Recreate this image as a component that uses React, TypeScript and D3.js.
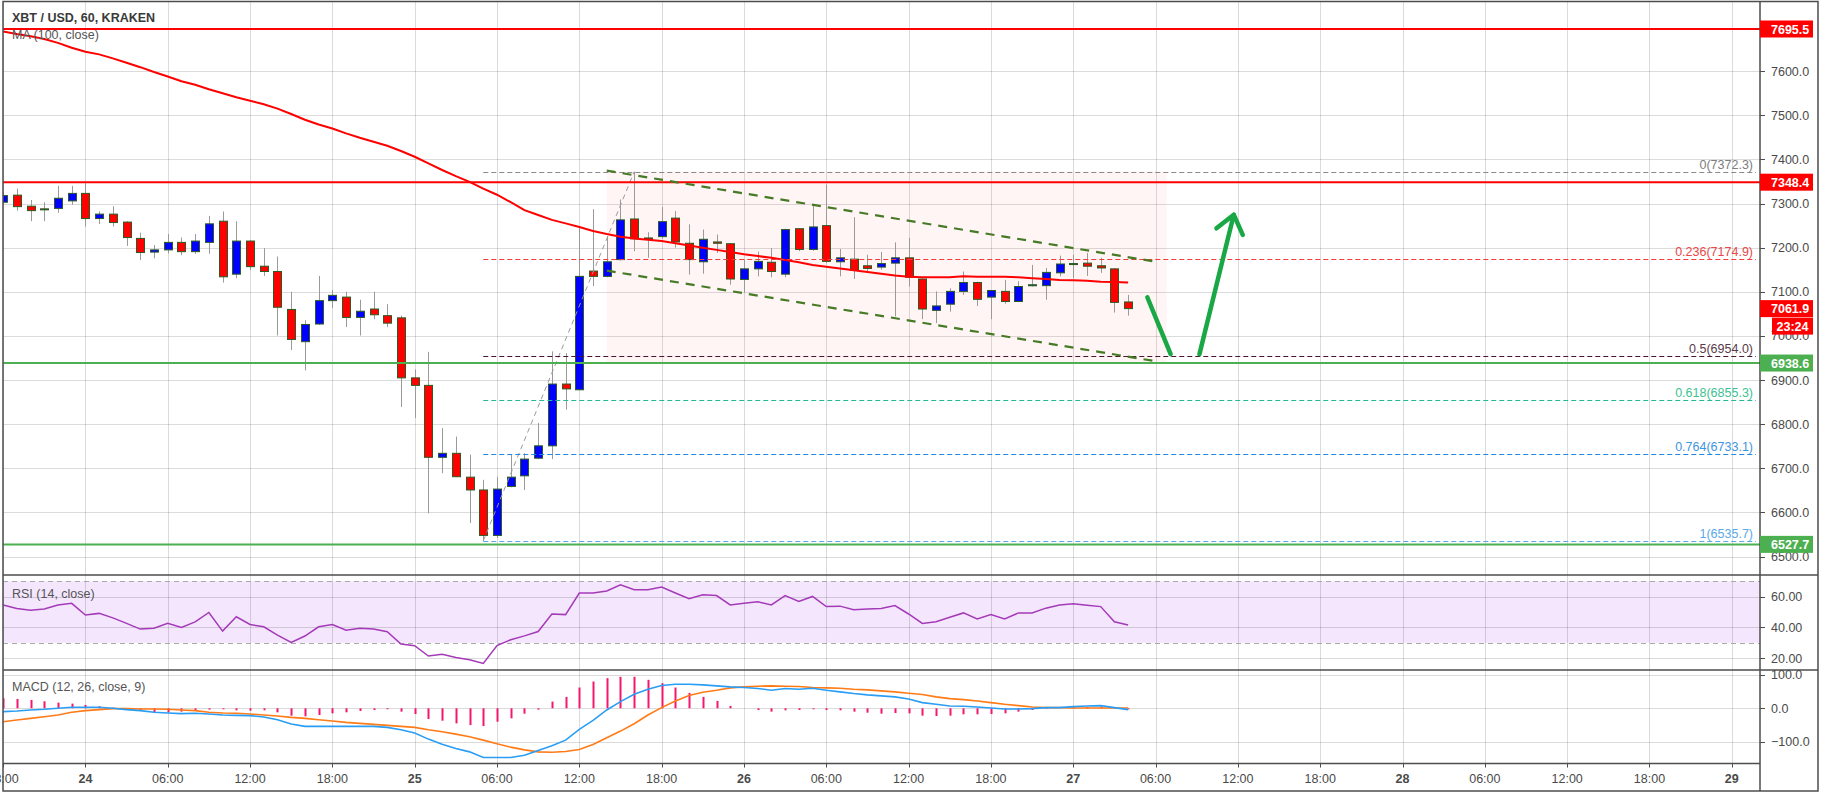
import React from "react";
import * as d3 from "d3";

// ---------------- data ----------------
// hourly candles, first candle = Nov 23 18:00 (hour -6 relative to Nov 24 00:00)
const FIRST_HOUR = -6;

const open = [
  7303, 7319, 7294, 7288, 7289, 7306, 7323, 7266, 7276, 7258,
  7221, 7190, 7195, 7212, 7191, 7212, 7260, 7140, 7215, 7158,
  7146, 7060, 6987, 7027, 7080, 7088, 7042, 7061, 7046, 7041,
  6905, 6888, 6725, 6734, 6680, 6651, 6548, 6659, 6683, 6723,
  6751, 6891, 6878, 7147, 7135, 7173, 7265, 7222, 7225, 7267,
  7210, 7168, 7213, 7209, 7128, 7152, 7167, 7140, 7243, 7196,
  7250, 7168, 7174, 7159, 7156, 7165, 7177, 7129, 7058, 7072,
  7101, 7121, 7088, 7101, 7078, 7114, 7114, 7143, 7163, 7165,
  7159, 7152, 7077,
];
const high = [
  7325, 7334, 7308, 7303, 7340, 7340, 7346, 7282, 7294, 7260,
  7234, 7206, 7231, 7223, 7231, 7272, 7282, 7260, 7217, 7199,
  7180, 7100, 7036, 7136, 7104, 7100, 7082, 7100, 7072, 7046,
  6924, 6964, 6791, 6772, 6731, 6674, 6681, 6731, 6734, 6803,
  6965, 6961, 7249, 7287, 7226, 7309, 7372, 7235, 7292, 7283,
  7253, 7241, 7230, 7210, 7173, 7191, 7199, 7243, 7244, 7298,
  7343, 7197, 7269, 7184, 7190, 7212, 7222, 7130, 7101, 7108,
  7146, 7123, 7104, 7127, 7124, 7161, 7154, 7182, 7184, 7188,
  7177, 7153, 7093,
];
const low = [
  7298, 7284, 7260, 7260, 7279, 7297, 7248, 7254, 7248, 7204,
  7172, 7176, 7187, 7183, 7186, 7186, 7121, 7131, 7149, 7136,
  7001, 6968, 6922, 7025, 7063, 7020, 7001, 7038, 7020, 6839,
  6814, 6598, 6689, 6680, 6576, 6536, 6542, 6657, 6651, 6721,
  6721, 6833, 6877, 7113, 7133, 7171, 7192, 7177, 7220, 7200,
  7139, 7141, 7188, 7116, 7098, 7135, 7133, 7133, 7192, 7193,
  7165, 7135, 7129, 7143, 7150, 7044, 7112, 7038, 7029, 7055,
  7093, 7068, 7038, 7073, 7077, 7112, 7082, 7135, 7131, 7136,
  7143, 7053, 7046,
];
const close = [
  7318, 7293, 7284, 7287, 7312, 7323, 7266, 7276, 7257, 7223,
  7189, 7195, 7212, 7191, 7215, 7254, 7134, 7215, 7157, 7146,
  7065, 6992, 7026, 7080, 7092, 7042, 7056, 7048, 7029, 6905,
  6888, 6725, 6734, 6681, 6651, 6548, 6653, 6680, 6721, 6751,
  6891, 6880, 7135, 7135, 7168, 7263, 7220, 7219, 7259, 7213,
  7173, 7219, 7210, 7129, 7152, 7169, 7146, 7241, 7196, 7247,
  7169, 7177, 7149, 7153, 7164, 7177, 7133, 7061, 7068, 7101,
  7121, 7083, 7103, 7078, 7112, 7116, 7144, 7163, 7164, 7158,
  7154, 7076, 7062,
];
const ma100 = [
  7690, 7684, 7679, 7673, 7664, 7653, 7644, 7638, 7629, 7619,
  7609, 7598, 7588, 7577, 7569, 7559, 7550, 7541, 7533, 7525,
  7515, 7503, 7490, 7479, 7470, 7459, 7449, 7440, 7431, 7419,
  7406, 7391, 7376, 7362, 7349, 7334, 7320, 7303, 7285, 7274,
  7263, 7255, 7247, 7238, 7231, 7225, 7221, 7218, 7215, 7210,
  7205, 7200, 7195, 7190, 7185, 7181, 7177, 7172, 7167, 7161,
  7157, 7153, 7149, 7145, 7141, 7137, 7134, 7133, 7133, 7133,
  7135, 7134, 7134, 7134, 7133, 7131, 7129, 7127, 7126, 7125,
  7123, 7122, 7121,
];
const rsi = [
  54.5, 52.3, 51.2, 51.9, 54.5, 55.6, 48.0, 49.1, 46.2, 42.6,
  38.9, 39.4, 42.6, 40.0, 43.6, 49.7, 37.6, 46.9, 41.9, 40.4,
  35.0, 30.3, 34.4, 40.4, 41.9, 38.2, 39.4, 38.9, 37.2, 29.2,
  28.1, 21.4, 22.5, 20.5, 19.0, 16.6, 28.2, 32.0, 34.5, 37.3,
  48.7, 48.3, 62.3, 62.3, 63.6, 67.7, 64.5, 64.5, 66.2, 62.3,
  58.6, 61.2, 60.7, 54.6, 55.7, 56.6, 54.6, 60.7, 56.8, 60.1,
  53.5, 53.8, 51.4, 51.9, 52.3, 54.2, 48.7, 42.6, 43.7, 46.6,
  49.4, 45.5, 48.3, 45.5, 49.4, 49.4, 52.5, 54.6, 55.3, 54.4,
  53.5, 43.7, 41.5,
];
const macd = [
  -10, -8, -5, -3, 0, 3, 3, 3, 0, -4,
  -7, -12, -14, -16, -15, -17, -20, -21, -22, -26,
  -34, -47, -54, -54, -54, -54, -54, -54, -57, -64,
  -74, -92, -107, -120, -130, -147, -147, -147, -140, -126,
  -112, -95, -63, -36, -5, 20, 42, 57, 68, 72,
  72, 70, 67, 64, 62, 59, 54, 59, 57, 60,
  54, 49, 44, 40, 37, 34, 28, 17, 12, 7,
  6, 4, 1, -2, -2, -1, 2, 2, 5, 7,
  8, 2, -4,
];
const signal = [
  -40, -35, -30, -25, -20, -12, -7, -4, -1, -1,
  -2, -2, -3, -5, -7, -12, -14, -15, -17, -20,
  -23, -27, -30, -34, -38, -42, -45, -48, -51, -54,
  -57, -64, -70, -77, -85, -95, -106, -116, -124, -130,
  -131, -129, -123, -108, -88, -68, -46, -20, 2, 22,
  38, 48, 54, 61, 64, 66, 67, 66, 65, 62,
  61, 60, 57, 55, 52, 49, 45, 41, 34, 29,
  26, 22, 17, 12, 8, 4, 2, 2, 1, 1,
  1, 1, 1,
];
const hist = [
  30, 28, 25, 21, 17, 14, 10, 6, 2, 0,
  -5, -12, -12, -10, -7, -4, -3, -6, -7, -6,
  -12, -22, -24, -20, -15, -12, -8, -5, -3, -10,
  -17, -32, -37, -45, -50, -53, -40, -30, -16, -4,
  20, 34, 62, 80, 90, 94, 94, 85, 75, 62,
  46, 34, 22, 7, 0, -5, -10, -6, -5, -3,
  -5, -6, -10, -13, -16, -14, -15, -22, -23, -22,
  -18, -18, -17, -15, -10, -5, -2, 0, 3, 4,
  5, 2, -3,
];

const timeTickHours = [-6, 0, 6, 12, 18, 24, 30, 36, 42, 48, 54, 60, 66, 72, 78, 84, 90, 96, 102, 108, 114, 120];
const timeTickLabels = [
  "18:00", "24", "06:00", "12:00", "18:00", "25", "06:00", "12:00", "18:00", "26", "06:00",
  "12:00", "18:00", "27", "06:00", "12:00", "18:00", "28", "06:00", "12:00", "18:00", "29",
];
const priceTicks = [6500, 6600, 6700, 6800, 6900, 7000, 7100, 7200, 7300, 7400, 7500, 7600];
const rsiTicks = [20, 40, 60];
const rsiBand = [30, 70];
const macdTicks = [-100, 0, 100];

const resistanceLevels = [7695.5, 7348.4];
const supportLevels = [6938.6, 6527.7];
const lastPrice = 7061.9;
const countdownText = "23:24";

const fibRatios = ["0", "0.236", "0.5", "0.618", "0.764", "1"];
const fibPrices = [7372.3, 7174.9, 6954.0, 6855.3, 6733.1, 6535.7];
const fibLineColors = ["#8a8a8a", "#f23b3b", "#4a1631", "#21b99a", "#1e88e5", "#5aa9e6"];
const fibTextColors = ["#7d7d7d", "#e84848", "#5a3a4a", "#3cc391", "#3d95dd", "#5aa9e6"];
const fibStartHour = 29;
const swingLine = [[29, 6535.7], [40, 7372.3]];

const channelUpper = [[38, 7374.6], [78.1, 7167.7]];
const channelLower = [[38, 7148], [78.1, 6942.2]];
const channelBox = { h0: 38, h1: 78.8, p0: 7372.3, p1: 6941 };
const arrowDown = [[77.4, 7087.7], [79.1, 6958.8]];
const arrowUp = [[81.2, 6958.8], [83.7, 7274.6]];

// ---------------- component ----------------
const FONT = "'Liberation Sans', Arial, sans-serif";
const AXFONT = "'Liberation Sans Narrow', 'Liberation Sans', Arial, sans-serif";

export default function App() {
  const W = 1822, H = 792;
  const L = 3, T = 1.5, R = 1818, B = 791;
  const AX = 1760;
  const P_BOT = 575, RSI_BOT = 670, M_BOT = 763.5;

  const x = d3.scaleLinear().domain([0, 120]).range([85.4, 1731.8]);
  const yP = d3.scaleLinear().domain([6500, 7600]).range([556.6, 71.15]);
  const yR = d3.scaleLinear().domain([20, 60]).range([658.2, 596.6]);
  const yM = d3.scaleLinear().domain([-100, 100]).range([741.8, 674.8]);

  const hours = open.map((_, i) => FIRST_HOUR + i);
  const px = (h: number) => Math.round(x(h)) + 0.5;
  const crisp = (v: number) => Math.round(v) + 0.5;

  const maLine = d3.line<number>().x((_, i) => x(hours[i])).y((d) => yP(d));
  const rsiLine = d3.line<number>().x((_, i) => x(hours[i])).y((d) => yR(d));
  const macdLine = d3.line<number>().x((_, i) => x(hours[i])).y((d) => yM(d));
  const segLine = d3.line<number[]>().x((d) => x(d[0])).y((d) => yP(d[1]));

  // arrow head on the up arrow
  const tip = [x(arrowUp[1][0]), yP(arrowUp[1][1])];
  const tail = [x(arrowUp[0][0]), yP(arrowUp[0][1])];
  const ang = Math.atan2(tail[1] - tip[1], tail[0] - tip[0]);
  const barb = 22, spread = (38 * Math.PI) / 180;
  const b1 = [tip[0] + barb * Math.cos(ang - spread), tip[1] + barb * Math.sin(ang - spread)];
  const b2 = [tip[0] + barb * Math.cos(ang + spread), tip[1] + barb * Math.sin(ang + spread)];

  const axisText = "#4a4a4a";

  const levelBox = (p: number, color: string, key: string) => {
    const yc = yP(p);
    return (
      <g key={key}>
        <rect x={AX} y={yc - 8.5} width={53} height={17} fill={color} />
        <text x={1771} y={yc + 4.5} fill="#fff" fontWeight="bold" fontSize={12.5} fontFamily={AXFONT}>
          {p.toFixed(1)}
        </text>
      </g>
    );
  };

  return (
    <svg
      width={W}
      height={H}
      viewBox={`0 0 ${W} ${H}`}
      style={{ position: "absolute", left: 0, top: 0, background: "#fff" }}
    >
      <defs>
        <clipPath id="pricePane">
          <rect x={L} y={T} width={AX - L} height={P_BOT - T} />
        </clipPath>
        <clipPath id="rsiPane">
          <rect x={L} y={P_BOT} width={AX - L} height={RSI_BOT - P_BOT} />
        </clipPath>
        <clipPath id="macdPane">
          <rect x={L} y={RSI_BOT} width={AX - L} height={M_BOT - RSI_BOT} />
        </clipPath>
      </defs>
      <rect x={0} y={0} width={W} height={H} fill="#fff" />

      {/* RSI band */}
      <rect x={L} y={yR(rsiBand[1])} width={AX - L} height={yR(rsiBand[0]) - yR(rsiBand[1])} fill="#f4e7fd" />

      {/* vertical grid */}
      {timeTickHours.map((h) => (
        <line key={"vg" + h} x1={px(h)} x2={px(h)} y1={T} y2={M_BOT} stroke="rgba(0,0,0,0.14)" strokeWidth={1} />
      ))}
      {/* horizontal grid */}
      {priceTicks.map((p) => (
        <line key={"pg" + p} x1={L} x2={AX} y1={crisp(yP(p))} y2={crisp(yP(p))} stroke="rgba(0,0,0,0.14)" />
      ))}
      {rsiTicks.map((r) => (
        <line key={"rg" + r} x1={L} x2={AX} y1={crisp(yR(r))} y2={crisp(yR(r))} stroke="rgba(0,0,0,0.14)" />
      ))}
      {rsiBand.map((r) => (
        <line key={"rb" + r} x1={L} x2={AX} y1={crisp(yR(r))} y2={crisp(yR(r))} stroke="#a9a9a9" strokeDasharray="5,4" />
      ))}
      {macdTicks.map((m) => (
        <line key={"mg" + m} x1={L} x2={AX} y1={crisp(yM(m))} y2={crisp(yM(m))} stroke="rgba(0,0,0,0.14)" />
      ))}

      {/* price pane */}
      <g clipPath="url(#pricePane)">
        <rect
          x={x(channelBox.h0)}
          y={yP(channelBox.p0)}
          width={x(channelBox.h1) - x(channelBox.h0)}
          height={yP(channelBox.p1) - yP(channelBox.p0)}
          fill="rgba(255,90,90,0.06)"
        />
        {/* wicks */}
        {hours.map((h, i) => (
          <line key={"w" + i} x1={px(h)} x2={px(h)} y1={yP(high[i])} y2={yP(low[i])} stroke="#9a9a9a" strokeWidth={1} />
        ))}
        {/* bodies */}
        {hours.map((h, i) => {
          const up = close[i] >= open[i];
          const top = yP(Math.max(open[i], close[i]));
          const bot = yP(Math.min(open[i], close[i]));
          return (
            <rect
              key={"b" + i}
              x={Math.round(x(h)) - 3.5}
              y={top}
              width={8}
              height={Math.max(1, bot - top)}
              fill={up ? "#0000ff" : "#ff0000"}
              stroke="#2b5a22"
              strokeWidth={1}
            />
          );
        })}
        {/* MA 100 */}
        <path d={maLine(ma100) || ""} fill="none" stroke="#ff0000" strokeWidth={2} />

        {/* fib swing line */}
        <path d={segLine(swingLine) || ""} fill="none" stroke="#9a9a9a" strokeWidth={1} strokeDasharray="5,4" />
        {/* fib levels */}
        {fibPrices.map((p, i) => (
          <g key={"fib" + i}>
            <line
              x1={x(fibStartHour)}
              x2={AX - 4}
              y1={crisp(yP(p))}
              y2={crisp(yP(p))}
              stroke={fibLineColors[i]}
              strokeWidth={1}
              strokeDasharray="5,3"
            />
            <text
              x={1753}
              y={yP(p) - 3}
              textAnchor="end"
              fill={fibTextColors[i]}
              fontSize={12.5}
              fontFamily={AXFONT}
            >
              {`${fibRatios[i]}(${p.toFixed(1)})`}
            </text>
          </g>
        ))}

        {/* horizontal levels */}
        {resistanceLevels.map((p) => (
          <line key={"rl" + p} x1={L} x2={AX} y1={yP(p)} y2={yP(p)} stroke="#ff0000" strokeWidth={2} />
        ))}
        {supportLevels.map((p) => (
          <line key={"sl" + p} x1={L} x2={AX} y1={yP(p)} y2={yP(p)} stroke="#4caf50" strokeWidth={2} />
        ))}

        {/* channel */}
        {[channelUpper, channelLower].map((c, i) => (
          <path key={"ch" + i} d={segLine(c) || ""} fill="none" stroke="#467a25" strokeWidth={2.2} strokeDasharray="9,7" />
        ))}

        {/* arrows */}
        <path d={segLine(arrowDown) || ""} fill="none" stroke="#19a845" strokeWidth={4.5} strokeLinecap="round" />
        <path d={segLine(arrowUp) || ""} fill="none" stroke="#19a845" strokeWidth={4.5} strokeLinecap="round" />
        <path
          d={`M${b1[0]},${b1[1]}L${tip[0]},${tip[1]}L${b2[0]},${b2[1]}`}
          fill="none"
          stroke="#19a845"
          strokeWidth={4.5}
          strokeLinecap="round"
          strokeLinejoin="round"
        />
      </g>

      {/* RSI */}
      <g clipPath="url(#rsiPane)">
        <path d={rsiLine(rsi) || ""} fill="none" stroke="#a43ab8" strokeWidth={1.5} />
      </g>

      {/* MACD */}
      <g clipPath="url(#macdPane)">
        {hours.map((h, i) => (
          <rect
            key={"h" + i}
            x={Math.round(x(h)) - 0.5}
            y={Math.min(yM(0), yM(hist[i]))}
            width={2}
            height={Math.abs(yM(hist[i]) - yM(0))}
            fill="#f3186e"
          />
        ))}
        <path d={macdLine(signal) || ""} fill="none" stroke="#ff7b17" strokeWidth={1.6} />
        <path d={macdLine(macd) || ""} fill="none" stroke="#2a9df4" strokeWidth={1.6} />
      </g>

      {/* legends */}
      <text x={12} y={22} fontSize={12.5} fontWeight="bold" fill="#3a3a3a" fontFamily={FONT}>
        XBT / USD, 60, KRAKEN
      </text>
      <text x={12} y={39} fontSize={12.5} fill="#555" fontFamily={FONT}>
        MA (100, close)
      </text>
      <text x={12} y={598} fontSize={12.5} fill="#555" fontFamily={FONT}>
        RSI (14, close)
      </text>
      <text x={12} y={691} fontSize={12.5} fill="#555" fontFamily={FONT}>
        MACD (12, 26, close, 9)
      </text>

      {/* pane separators / frame */}
      <line x1={L} x2={R} y1={P_BOT} y2={P_BOT} stroke="#4d4d4d" strokeWidth={1.5} />
      <line x1={L} x2={R} y1={RSI_BOT} y2={RSI_BOT} stroke="#4d4d4d" strokeWidth={1.5} />
      <line x1={L} x2={AX} y1={M_BOT} y2={M_BOT} stroke="#4d4d4d" strokeWidth={1.5} />
      <line x1={AX} x2={AX} y1={T} y2={B} stroke="#4d4d4d" strokeWidth={1.5} />

      {/* price axis */}
      {priceTicks.map((p) => (
        <g key={"pt" + p}>
          <line x1={AX} x2={AX + 5} y1={crisp(yP(p))} y2={crisp(yP(p))} stroke="#4d4d4d" />
          <text x={1771} y={yP(p) + 4.5} fontSize={12.5} fill={axisText} fontFamily={AXFONT}>
            {p.toFixed(1)}
          </text>
        </g>
      ))}
      {rsiTicks.map((r) => (
        <g key={"rt" + r}>
          <line x1={AX} x2={AX + 5} y1={crisp(yR(r))} y2={crisp(yR(r))} stroke="#4d4d4d" />
          <text x={1771} y={yR(r) + 4.5} fontSize={12.5} fill={axisText} fontFamily={AXFONT}>
            {r.toFixed(2)}
          </text>
        </g>
      ))}
      {macdTicks.map((m) => (
        <g key={"mt" + m}>
          <line x1={AX} x2={AX + 5} y1={crisp(yM(m))} y2={crisp(yM(m))} stroke="#4d4d4d" />
          <text x={1771} y={yM(m) + 4.5} fontSize={12.5} fill={axisText} fontFamily={AXFONT}>
            {(m < 0 ? "\u2212" : "") + Math.abs(m).toFixed(1)}
          </text>
        </g>
      ))}

      {/* level labels on axis */}
      {resistanceLevels.map((p) => levelBox(p, "#ff0000", "rb" + p))}
      {supportLevels.map((p) => levelBox(p, "#4caf50", "sb" + p))}
      {levelBox(lastPrice, "#ff0000", "last")}
      <rect x={1772} y={yP(lastPrice) + 9} width={41} height={17} fill="#ff0000" />
      <text
        x={1792.5}
        y={yP(lastPrice) + 22}
        textAnchor="middle"
        fill="#fff"
        fontWeight="bold"
        fontSize={12.5}
        fontFamily={AXFONT}
      >
        {countdownText}
      </text>

      {/* time axis */}
      {timeTickHours.map((h, i) => {
        const isDay = !timeTickLabels[i].includes(":");
        return (
          <g key={"tt" + h}>
            <line x1={px(h)} x2={px(h)} y1={M_BOT} y2={M_BOT + 4} stroke="#4d4d4d" />
            <text
              x={x(h)}
              y={783}
              textAnchor="middle"
              fontSize={12.5}
              fontWeight={isDay ? "bold" : "normal"}
              fill={axisText}
              fontFamily={AXFONT}
            >
              {timeTickLabels[i]}
            </text>
          </g>
        );
      })}

      {/* outer frame */}
      <rect x={L} y={T} width={R - L} height={B - T} fill="none" stroke="#4d4d4d" strokeWidth={1.5} />
    </svg>
  );
}
